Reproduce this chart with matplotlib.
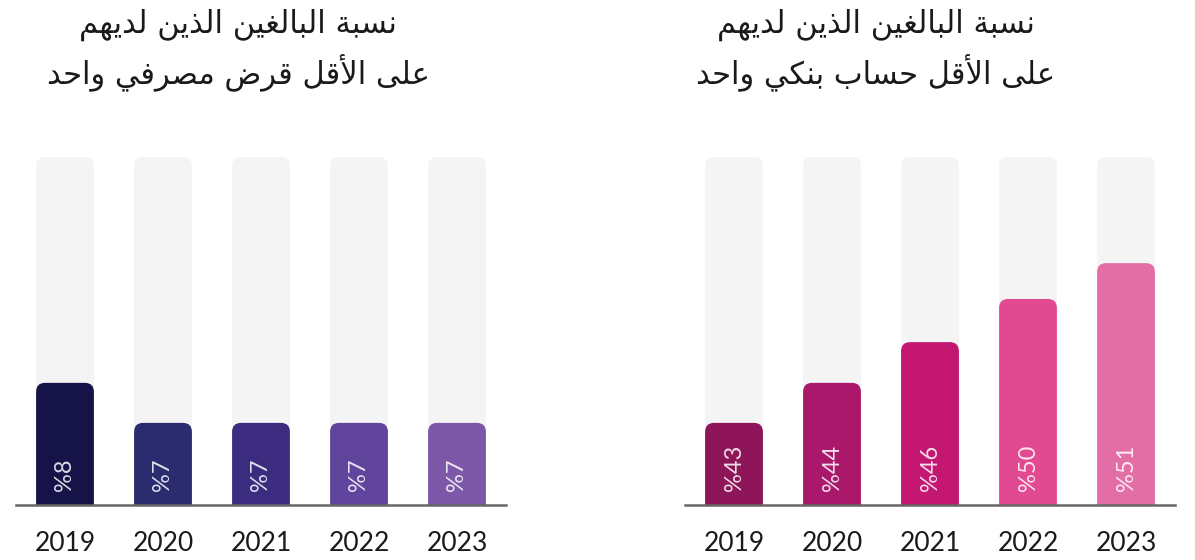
import matplotlib
matplotlib.use("Agg")
import matplotlib.pyplot as plt
from matplotlib.patches import FancyBboxPatch

years = ["2019", "2020", "2021", "2022", "2023"]

# right panel: adults with at least one bank account
account_labels = ["%43", "%44", "%46", "%50", "%51"]
account_heights = [23.6, 35.1, 46.8, 59.2, 69.5]   # bar height, % of grey track
account_colors = ["#8e1559", "#a9186b", "#c31771", "#e14a90", "#e36ea5"]

# left panel: adults with at least one bank loan
loan_labels = ["%8", "%7", "%7", "%7", "%7"]
loan_heights = [35.1, 23.6, 23.6, 23.6, 23.6]
loan_colors = ["#161349", "#2b2b70", "#3c2c80", "#61449b", "#7d58a9"]

loan_title = ["نسبة البالغين الذين لديهم", "على الأقل قرض مصرفي واحد"]
account_title = ["نسبة البالغين الذين لديهم", "على الأقل حساب بنكي واحد"]

# matplotlib has no arabic shaping, so map letters to their presentation forms
# (isolated code point, number of forms: 2 = joins to the right only, 4 = both sides)
FORMS = {
    "ا": (0xFE8D, 2), "أ": (0xFE83, 2), "ب": (0xFE8F, 4), "ة": (0xFE93, 2),
    "ح": (0xFEA1, 4), "د": (0xFEA9, 2), "ذ": (0xFEAB, 2), "ر": (0xFEAD, 2),
    "س": (0xFEB1, 4), "ص": (0xFEB9, 4), "ض": (0xFEBD, 4), "ع": (0xFEC9, 4),
    "غ": (0xFECD, 4), "ف": (0xFED1, 4), "ق": (0xFED5, 4), "ك": (0xFED9, 4),
    "ل": (0xFEDD, 4), "م": (0xFEE1, 4), "ن": (0xFEE5, 4), "ه": (0xFEE9, 4),
    "و": (0xFEED, 2), "ى": (0xFEEF, 2), "ي": (0xFEF1, 4),
}
LAM_ALEF = {"ا": 0xFEFB, "أ": 0xFEF7}


def shape(text):
    words = []
    for word in text.split(" "):
        tokens = []
        i = 0
        while i < len(word):
            c = word[i]
            if c == "ل" and i + 1 < len(word) and word[i + 1] in LAM_ALEF:
                tokens.append((LAM_ALEF[word[i + 1]], 2))
                i += 2
            else:
                tokens.append(FORMS[c])
                i += 1
        out = ""
        for k, (base, n) in enumerate(tokens):
            prev = k > 0 and tokens[k - 1][1] == 4
            nxt = n == 4 and k + 1 < len(tokens)
            if prev and nxt:
                code = base + 3
            elif prev:
                code = base + 1
            elif nxt:
                code = base + 2
            else:
                code = base
            out += chr(code)
        words.append(out)
    return " ".join(words)[::-1]


W, H = 1195, 560
fig = plt.figure(figsize=(W / 100, H / 100), dpi=100)
fig.patch.set_facecolor("white")

track_top, baseline = 157, 505
bar_w = 0.59


def panel(left_px, labels, heights, colors, title, title_x):
    ax = fig.add_axes([left_px / W, (H - baseline) / H, 490 / W, (baseline - track_top) / H])
    ax.set_xlim(-0.5, 4.5)
    ax.set_ylim(0, 100)
    # keep rounded corners round in pixels
    px_x = 490 / 5
    px_y = (baseline - track_top) / 100
    asp = px_x / px_y
    r = 9 / px_x
    x = range(len(years))
    for xi, h, col, lab in zip(x, heights, colors, labels):
        ax.add_patch(FancyBboxPatch((xi - bar_w / 2, -10), bar_w, 110,
                                    boxstyle=f"round,pad=0,rounding_size={r}",
                                    mutation_aspect=asp, fc="#f4f4f4", ec="none"))
        ax.add_patch(FancyBboxPatch((xi - bar_w / 2, -10), bar_w, h + 10,
                                    boxstyle=f"round,pad=0,rounding_size={r}",
                                    mutation_aspect=asp, fc=col, ec="none"))
        ax.text(xi, 4.0, lab, rotation=90, rotation_mode="anchor", ha="left",
                va="center", color="white", alpha=0.85, fontsize=17,
                family="Lato")
    for s in ["top", "left", "right"]:
        ax.spines[s].set_visible(False)
    ax.spines["bottom"].set_color("#666666")
    ax.spines["bottom"].set_linewidth(1.8)
    ax.spines["bottom"].set_zorder(5)
    ax.set_yticks([])
    ax.set_xticks(list(x))
    ax.set_xticklabels(years, fontsize=19, family="Lato", color="#1a1a1a")
    ax.tick_params(axis="x", length=0, pad=19)
    ax.set_facecolor("none")
    fig.text(title_x / W, 1 - 25 / H, shape(title[0]), ha="center", va="center",
             fontsize=22, family="DejaVu Sans", color="#1a1a1a")
    fig.text(title_x / W, 1 - 72 / H, shape(title[1]), ha="center", va="center",
             fontsize=22, family="DejaVu Sans", color="#1a1a1a")


panel(16, loan_labels, loan_heights, loan_colors, loan_title, 238)
panel(685, account_labels, account_heights, account_colors, account_title, 876)

fig.savefig("out.png", dpi=100)
